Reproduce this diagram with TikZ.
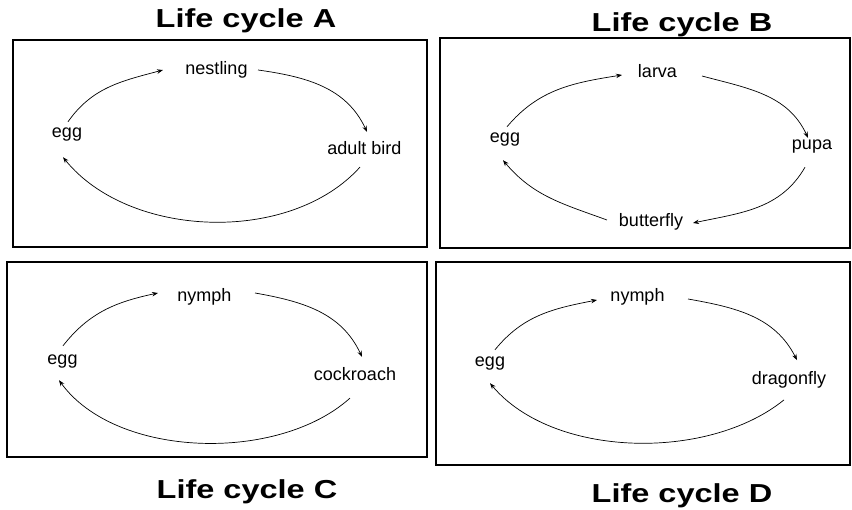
\documentclass[tikz,border=0pt]{standalone}
\usepackage{fontspec}
\setmainfont{Liberation Sans}
\usetikzlibrary{arrows.meta}
\tikzset{
  stage/.style={inner sep=0pt,outer sep=0pt,font=\fontsize{18}{18}\selectfont},
  cycarrow/.style={line width=0.7pt,-{Stealth[length=6pt,width=4.5pt]}},
  panel/.style={line width=1.5pt},
  heading/.style={anchor=base,xscale=1.25,font=\bfseries\fontsize{26}{26}\selectfont}
}
\begin{document}
\begin{tikzpicture}[x=1pt,y=1pt]
\useasboundingbox (0,0) rectangle (852,-510);
\foreach \xa/\ya/\xb/\yb in {13/40/427/247,440/38/850/248,7/262/427/457,436/262/850/465}{\draw[panel](\xa,-\ya) rectangle (\xb,-\yb);}
\foreach \n/\x/\y in {A/246/28,B/682/32,C/247/499,D/682/503}{\node[heading](title\n) at (\x,-\y){Life cycle \n};}
\foreach \n/\x/\y/\t in {eggA/67/134.5/egg,nestA/216.5/70/nestling,adultA/364.5/148.5/adult bird,
  eggB/505/139.5/egg,larvaB/657.5/71.5/larva,pupaB/812/146.5/pupa,butterflyB/651/221.5/butterfly,
  eggC/62.5/361.5/egg,nymphC/204.5/296.5/nymph,roachC/355/374.5/cockroach,
  eggD/490/363.5/egg,nymphD/637.5/296.5/nymph,dragonD/789/380/dragonfly}{\node[stage](\n) at (\x,-\y){\t};}
\foreach \a/\ax/\ay/\b/\bx/\by/\o/\i/\l in {
  eggA.north/1/6/nestA.west/-22.5/0/55/195/1,
  nestA.east/10.5/0/adultA.north/2.5/10/-8/115/1,
  adultA.south/-4.5/-12/eggA.south/-4/-16/228/-51/0.9,
  eggB.north/2/6/larvaB.west/-16/-3.5/50/189/1,
  larvaB.east/25/-4.5/pupaB.north/-4/2/-15/115/1,
  pupaB.south/-7/-14/butterflyB.east/10/-1.5/-120/12/1,
  butterflyB.west/-12/1.5/eggB.south/-2/-14/160/-50/1,
  eggC.north/0.5/9/nymphC.west/-19.5/3.5/52/192/1,
  nymphC.east/23.5/3.5/roachC.north/7/11/-10/115/1,
  roachC.south/-5/-17/eggC.south/-3.5/-12/222/-54/0.85,
  eggD.north/5/7/nymphD.west/-13.5/-3.5/51/191/1,
  nymphD.east/23.5/-2.5/dragonD.north/8/11.5/-10/117/1,
  dragonD.south/-5/-11.5/eggD.south/0/-13/219/-50/0.85}{
  \draw[cycarrow]([xshift=\ax pt,yshift=\ay pt]\a) to[out=\o,in=\i,looseness=\l] ([xshift=\bx pt,yshift=\by pt]\b);}
\end{tikzpicture}
\end{document}
